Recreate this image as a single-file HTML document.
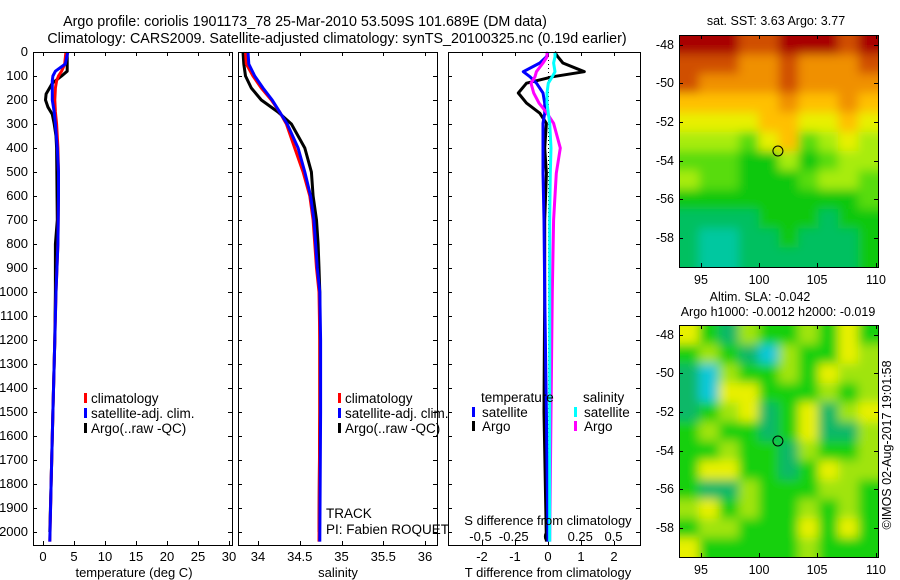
<!DOCTYPE html>
<html><head><meta charset="utf-8"><style>
html,body{margin:0;padding:0;background:#fff;}
svg{display:block;font-family:"Liberation Sans",sans-serif;font-size:13px;}
.big{font-size:14.3px;}
.leg{font-size:13.5px;}
.map{font-size:12.5px;}
</style></head><body>
<svg id="c" width="900" height="580" xmlns="http://www.w3.org/2000/svg">
<defs>
<filter id="blur" x="-10%" y="-10%" width="120%" height="120%"><feGaussianBlur stdDeviation="5"/></filter>
<clipPath id="clipTop"><rect x="679" y="35" width="200" height="233"/></clipPath>
<clipPath id="clipBot"><rect x="679" y="325" width="200" height="233"/></clipPath>
</defs>
</svg>
<script>
// ---- data ----
const tDepth=[0,50,80,100,120,150,200,250,300,400,500,600,800,1000,1200,1500,1800,2040];
const tClim=[3.7,3.5,3.0,2.5,2.2,2.0,1.9,2.0,2.2,2.4,2.5,2.5,2.4,2.1,1.9,1.6,1.3,1.1];
const tSat=[4.0,3.6,2.0,1.6,1.5,1.5,1.5,1.8,2.0,2.3,2.5,2.5,2.4,2.1,1.9,1.6,1.3,1.1];
const tArgoDepth=[0,80,100,130,175,200,230,260,300,350,400,700,800,1000,1200,1500,1800,2000];
const tArgo=[3.9,3.9,3.0,1.5,0.5,0.4,0.8,1.5,1.8,2.1,2.2,2.3,2.0,2.0,1.9,1.6,1.3,1.1];
const sDepth=[0,50,100,150,200,250,300,400,500,600,700,800,900,1000,1200,1500,2040];
const sClim=[33.85,33.86,33.94,34.04,34.16,34.26,34.34,34.44,34.54,34.62,34.66,34.68,34.70,34.73,34.74,34.74,34.73];
const sSat=[33.88,33.89,33.96,34.06,34.17,34.26,34.35,34.48,34.56,34.63,34.67,34.69,34.71,34.74,34.75,34.75,34.74];
const sArgoDepth=[0,50,100,150,200,250,300,400,500,600,700,800,900,1000,1200,1500,2000];
const sArgo=[33.82,33.83,33.85,33.92,34.04,34.24,34.40,34.56,34.64,34.66,34.70,34.72,34.73,34.74,34.74,34.74,34.73];
const dDepth=[0,20,46,82,103,130,171,213,255,297,400,505,700,1000,1500,2040];
const dTArgo=[0.2,0.3,0.45,1.1,0.15,-0.65,-0.9,-0.65,-0.25,-0.05,-0.1,-0.05,-0.1,-0.1,-0.12,-0.05];
const dTSat=[0,-0.05,-0.25,-0.75,-0.55,-0.35,-0.15,-0.1,-0.1,-0.15,-0.15,-0.15,-0.12,-0.1,-0.05,0];
const dSArgo=[0.0,0.0,-0.03,-0.08,-0.09,-0.12,-0.1,-0.06,0.0,0.05,0.1,0.07,0.05,0.04,0.03,0.02];
const dSSat=[0.06,0.06,0.05,0.06,0.04,0.01,0.0,0.0,0.01,0.02,0.03,0.025,0.02,0.02,0.02,0.02];
const depthTicks=[0,100,200,300,400,500,600,700,800,900,1000,1100,1200,1300,1400,1500,1600,1700,1800,1900,2000];
const tTicks=[0,5,10,15,20,25,30];
const sTicks=[34,34.5,35,35.5,36];
const dTTicks=[-2,-1,0,1,2];
const dSTicks=[-0.5,-0.25,0,0.25,0.5];
const dSTickLabels=["-0.5","-0.25","0","0.25","0.5"];
const latTicks=[-48,-50,-52,-54,-56,-58];
const lonTicks=[95,100,105,110];
const sstGrid=[
[9,9,9,8,8,9,9,9,8,9],[8,8,8,7,7,8,7,7,7,8],[8,7,7,7,7,8,7,7,7,7],[6,6,6,6,6,7,6,6,7,6],
[5,5,5,5,6,6,5,5,6,5],[4,4,4,3,5,6,3,4,5,4],[3,3,3,2,2,4,2,3,4,4],[4,3,3,2,2,2,3,4,4,3],
[2,2,2,2,2,2,2,2,2,3],[1,1,1,1,2,2,2,1,2,2],[1,0,0,1,1,2,1,1,1,2],[1,0,0,1,1,1,1,1,1,2]];
const slaGrid=[
[4,2,1,3,2,2,3,2,4,2],[2,3,2,1,0,3,2,2,4,3],[1,0,3,2,2,3,2,4,3,3],[1,0,4,4,2,2,2,3,2,3],
[1,2,3,4,1,2,4,1,3,4],[2,3,2,2,1,2,4,1,1,3],[2,2,3,2,2,1,3,2,2,3],[2,4,4,2,2,1,2,4,3,3],
[2,1,1,3,2,2,2,3,3,2],[3,4,2,3,2,2,3,2,3,2],[2,3,3,2,2,2,4,2,4,2],[4,2,2,2,2,2,3,2,2,2]];
const sstColors=["#00c8a0","#00c060","#10c810","#58dc10","#a8ec08","#e8f000","#ffc000","#f09000","#d05000","#a80000"];
const slaColors=["#10c8d8","#10b868","#18d010","#a0e410","#e8f000","#ffd000"];
const floatLon=101.6, floatLat=-53.5;

// ---- helpers ----
const svg=document.getElementById('c');
const NS="http://www.w3.org/2000/svg";
function mk(tag,attrs,parent){const e=document.createElementNS(NS,tag);for(const k in attrs)e.setAttribute(k,attrs[k]);(parent||svg).appendChild(e);return e;}
function txt(x,y,s,anchor,name,cls){const t=mk('text',{x:x,y:y,'text-anchor':anchor||'start',fill:'#000'});t.textContent=s;
if(cls)t.setAttribute('class',cls);


return t;}
const yD=d=>52+d*0.24;
const xT=v=>43+v*6.2;
const xS=v=>258+(v-34)*83.5;
const xDT=v=>548+v*33;
const xDS=v=>547+v*133;
function line(xs,ds,xf,col,name,w){const pts=xs.map((v,i)=>xf(v).toFixed(1)+','+yD(ds[i]).toFixed(1)).join(' ');
const p=mk('polyline',{points:pts,fill:'none',stroke:col,'stroke-width':w||3,'stroke-linejoin':'round'});

}
function frame(x0,x1,y0,y1,name){const r=mk('rect',{x:x0+.5,y:y0+.5,width:x1-x0,height:y1-y0,fill:'none',stroke:'#000'});

}
function vtick(x,y0,y1){mk('line',{x1:x+.5,x2:x+.5,y1:y0,y2:y0+4,stroke:'#000'});mk('line',{x1:x+.5,x2:x+.5,y1:y1,y2:y1-4,stroke:'#000'});}
function htick(y,x0,x1){mk('line',{x1:x0,x2:x0+4,y1:y+.5,y2:y+.5,stroke:'#000'});mk('line',{x1:x1,x2:x1-4,y1:y+.5,y2:y+.5,stroke:'#000'});}
function legendMark(x,y,col,name){const r=mk('rect',{x:x,y:y-10,width:3,height:10,fill:col});

}

txt(305,26,'Argo profile: coriolis 1901173_78 25-Mar-2010 53.509S 101.689E (DM data)','middle','title-line-1','big');
txt(337,43,'Climatology: CARS2009. Satellite-adjusted climatology: synTS_20100325.nc (0.19d earlier)','middle','title-line-2','big');

const P1=[33,232],P2=[238,437],P3=[448,640],PY=[52,545];
depthTicks.forEach(d=>{txt(28,yD(d)+4,String(d),'end','depth-tick-label');[P1,P2,P3].forEach(p=>htick(Math.round(yD(d)),p[0],p[1]));});
tTicks.forEach(v=>{vtick(Math.round(xT(v)),PY[0],PY[1]);txt(xT(v),561,String(v),'middle','temperature-tick-label');});
line(tArgo,tArgoDepth,xT,'#000','temperature-argo-line');
line(tClim,tDepth,xT,'#f00','temperature-climatology-line');
line(tSat,tDepth,xT,'#00f','temperature-satellite-line');
frame(P1[0],P1[1],PY[0],PY[1],'temperature-axes');
txt(134,577,'temperature (deg C)','middle','temperature-axis-title');
legendMark(84,403,'#f00','legend-climatology-marker');txt(91,403,'climatology','start','legend-climatology','leg');
legendMark(84,418,'#00f','legend-satellite-marker');txt(91,418,'satellite-adj. clim.','start','legend-satellite','leg');
legendMark(84,433,'#000','legend-argo-marker');txt(91,433,'Argo(..raw -QC)','start','legend-argo','leg');

sTicks.forEach(v=>{vtick(Math.round(xS(v)),PY[0],PY[1]);txt(xS(v),561,String(v),'middle','salinity-tick-label');});
line(sArgo,sArgoDepth,xS,'#000','salinity-argo-line');
line(sClim,sDepth,xS,'#f00','salinity-climatology-line');
line(sSat,sDepth,xS,'#00f','salinity-satellite-line');
frame(P2[0],P2[1],PY[0],PY[1],'salinity-axes');
txt(338,577,'salinity','middle','salinity-axis-title');
legendMark(338,403,'#f00','legend2-climatology-marker');txt(345,403,'climatology','start','legend2-climatology','leg');
legendMark(338,418,'#00f','legend2-satellite-marker');txt(345,418,'satellite-adj. clim.','start','legend2-satellite','leg');
legendMark(338,433,'#000','legend2-argo-marker');txt(345,433,'Argo(..raw -QC)','start','legend2-argo','leg');
txt(326,518,'TRACK','start','track-label','leg');
txt(326,534,'PI: Fabien ROQUET','start','pi-label','leg');

dTTicks.forEach(v=>{vtick(Math.round(xDT(v)),PY[0],PY[1]);txt(xDT(v),561,String(v),'middle','t-diff-tick-label');});
dSTicks.forEach((v,i)=>{txt(xDS(v),541,dSTickLabels[i],'middle','s-diff-tick-label');});
const zl=mk('line',{x1:548.5,x2:548.5,y1:52,y2:545,stroke:'#000','stroke-dasharray':'1,3'});


line(dTArgo,dDepth,xDT,'#000','t-diff-argo-line');
line(dTSat,dDepth,xDT,'#00f','t-diff-satellite-line');
line(dSArgo,dDepth,xDS,'#f0f','s-diff-argo-line');
line(dSSat,dDepth,xDS,'#0ff','s-diff-satellite-line');
frame(P3[0],P3[1],PY[0],PY[1],'difference-axes');
txt(548,525,'S difference from climatology','middle','s-diff-axis-title');
txt(548,577,'T difference from climatology','middle','t-diff-axis-title');
txt(481,402,'temperature','start','legend3-temperature-heading','leg');
legendMark(472,417,'#00f','legend3-t-satellite-marker');txt(482,417,'satellite','start','legend3-t-satellite','leg');
legendMark(472,431,'#000','legend3-t-argo-marker');txt(482,431,'Argo','start','legend3-t-argo','leg');
txt(583,402,'salinity','start','legend3-salinity-heading','leg');
legendMark(574,417,'#0ff','legend3-s-satellite-marker');txt(584,417,'satellite','start','legend3-s-satellite','leg');
legendMark(574,431,'#f0f','legend3-s-argo-marker');txt(584,431,'Argo','start','legend3-s-argo','leg');

const lonMin=93.1,lonMax=110.2,latTop=-47.5,latBot=-59.5;
const MX=[679,878];
function drawMap(y0,y1,grid,colors,name,clip){
  const xL=v=>MX[0]+(v-lonMin)/(lonMax-lonMin)*(MX[1]-MX[0]);
  const yL=v=>y0+(latTop-v)/(latTop-latBot)*(y1-y0);
  const rows=grid.length,cols=grid[0].length;
  const cw=(MX[1]-MX[0])/cols,ch=(y1-y0)/rows;
  const outer=mk('g',{'clip-path':'url(#'+clip+')'});
  const g=mk('g',{filter:'url(#blur)'},outer);
  
  
  const ext=14;
  grid.forEach((row,r)=>row.forEach((v,c)=>{
    let x=MX[0]+c*cw,y=y0+r*ch,w=cw+0.6,h=ch+0.6;
    if(c===0){x-=ext;w+=ext;} if(c===cols-1){w+=ext;}
    if(r===0){y-=ext;h+=ext;} if(r===rows-1){h+=ext;}
    const cell=mk('rect',{x:x.toFixed(1),y:y.toFixed(1),width:w.toFixed(1),height:h.toFixed(1),fill:colors[v]},g);
    
    
  }));
  latTicks.forEach(l=>{const y=Math.round(yL(l));htick(y,MX[0],MX[1]);txt(674,y+4,String(l),'end',name+'-lat-label','map');});
  lonTicks.forEach(l=>{const x=Math.round(xL(l));vtick(x,y0,y1);txt(x,y1+17,String(l),'middle',name+'-lon-label','map');});
  frame(MX[0],MX[1],y0,y1,name+'-frame');
  const c=mk('circle',{cx:xL(floatLon),cy:yL(floatLat),r:5,fill:'none',stroke:'#000'});
  
  
}
drawMap(35,267,sstGrid,sstColors,'sst-map','clipTop');
drawMap(325,557,slaGrid,slaColors,'sla-map','clipBot');
txt(776,25,'sat. SST: 3.63 Argo: 3.77','middle','sst-map-title','map');
txt(760,301,'Altim. SLA: -0.042','middle','sla-map-title','map');
txt(778,316,'Argo h1000: -0.0012 h2000: -0.019','middle','sla-map-subtitle','map');
const cr=txt(0,0,'©IMOS 02-Aug-2017 19:01:58','middle','copyright-label','map');
cr.setAttribute('transform','translate(891,445) rotate(-90)');
</script>
</body></html>
